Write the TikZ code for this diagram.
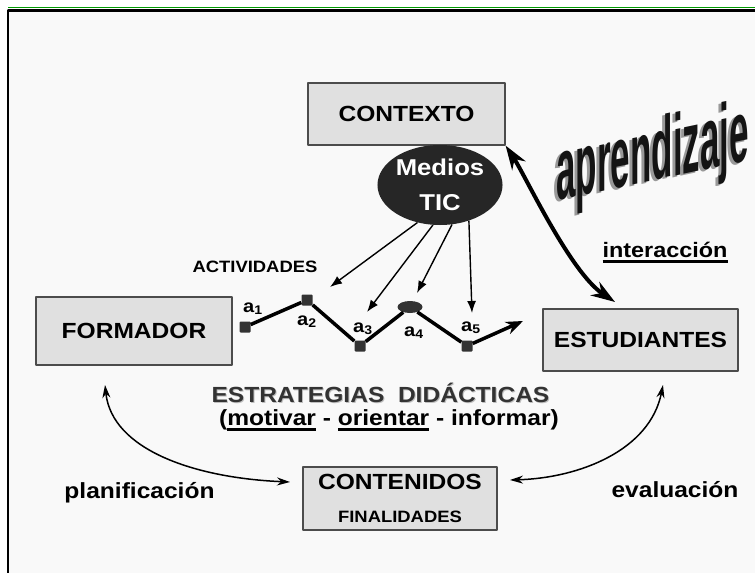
\documentclass[tikz,border=0pt]{standalone}
\usepackage{fontspec}
\setmainfont{Liberation Sans}[FakeStretch=1.12]
\newfontfamily\wordart{Liberation Sans}[FakeStretch=0.40]
\usepackage{tikz}
\usetikzlibrary{shapes.geometric,arrows.meta}
\newcommand{\undl}[1]{\leavevmode\setbox0=\hbox{#1}\rlap{\vrule width\wd0 height -3bp depth 5.5bp}\box0\relax}

\begin{document}
\begin{tikzpicture}[x=1bp, y=-1bp, line join=round,
  box/.style = {draw=black!70, line width=1.2bp, fill=black!12, inner sep=0pt},
  boxlbl/.style = {font=\fontsize{22}{26}\selectfont\bfseries},
  sublbl/.style = {font=\fontsize{16.5}{20}\selectfont\bfseries},
  actv/.style = {fill=black!80, minimum size=11bp, inner sep=0pt, rounded corners=1bp},
  alab/.style = {font=\fontsize{18}{22}\selectfont\bfseries, inner sep=0pt, anchor=base west},
  fine/.style = {-{Latex[length=12bp,width=9bp]}, line width=1.4bp},
  zigzag/.style = {line width=3.5bp},
  cyc/.style = {{Stealth[length=13bp,width=8bp]}-{Stealth[length=13bp,width=8bp]}, line width=1.5bp},
  inter/.style = {{Stealth[length=24bp,width=16bp]}-{Stealth[length=24bp,width=16bp]}, line width=4bp},
  wa/.style = {font=\wordart\fontsize{88}{88}\selectfont\bfseries, anchor=base west, yslant=0.21, inner sep=0pt}]
\useasboundingbox (0,0) rectangle (755,573);
\fill[black!2.5] (8,10) rectangle (755,573);
\draw[green!60!black, line width=1bp] (8,8) -- (755,8);
\draw[line width=2.5bp] (8,573) -- (8,10.5) -- (755,10.5);

\node[box, boxlbl, minimum width=197bp, minimum height=62bp] (ctx) at (406.5,114) {CONTEXTO};
\node[box, boxlbl, minimum width=196bp, minimum height=68bp] (form) at (134,331) {FORMADOR};
\node[box, boxlbl, minimum width=195bp, minimum height=62bp] (est) at (640.5,340) {ESTUDIANTES};
\node[box, minimum width=194bp, minimum height=63bp] (cont) at (400,498.5) {};
\node[boxlbl] (conttxt) at (400,482) {CONTENIDOS};
\node[sublbl] (fin) at (400,517) {FINALIDADES};

\node[ellipse, fill=black!85, text=white, minimum width=108bp, minimum height=80bp, inner sep=0pt,
  align=center, font=\fontsize{23}{35}\selectfont\bfseries] (tic) at (440,185) {Medios\\TIC};

\node[wa, text=black!40] (wordsh) at (553,203) {aprendizaje};
\node[wa, text=black!92] (word) at (556,201) {aprendizaje};

\node[anchor=base, font=\fontsize{21}{24}\selectfont\bfseries] (inter) at (665,257) {\undl{interacción}};
\node[sublbl] (act) at (255,267) {ACTIVIDADES};

\node[actv] (m1) at (245,327) {};
\node[actv] (m2) at (307,300) {};
\node[actv] (m3) at (360,346) {};
\node[actv, ellipse, minimum width=25bp, minimum height=12bp] (m4) at (410,307) {};
\node[actv] (m5) at (467,346) {};
\coordinate (zend) at (523,321);
\draw[zigzag] (m1) -- (m2) -- (m3) -- (m4) -- (m5);
\draw[zigzag, -{Stealth[length=17bp,width=13bp]}] (m5) -- (zend);

\node[alab] (a1) at (243,312) {a\textsubscript{1}};
\node[alab] (a2) at (297,325) {a\textsubscript{2}};
\node[alab] (a3) at (353,332) {a\textsubscript{3}};
\node[alab] (a4) at (404,336) {a\textsubscript{4}};
\node[alab] (a5) at (461,331) {a\textsubscript{5}};

\coordinate (t1) at (330,287);
\coordinate (t2) at (367,312);
\coordinate (t3) at (417,293);
\coordinate (t4) at (472,313);
\draw[fine] (tic.239) -- (t1);
\draw[fine] (tic.260) -- (t2);
\draw[fine] (tic.287) -- (t3);
\draw[fine] (tic.309) -- (t4);

\coordinate (iend) at (615,302);
\draw[inter] (ctx.south east) .. controls (525,175) and (570,272) .. (iend);

\node[boxlbl, text=black!25, anchor=base] (estrsh) at (381.5,403) {ESTRATEGIAS\ \ DIDÁCTICAS};
\node[boxlbl, text=black!80, anchor=base] (estr) at (380.5,402) {ESTRATEGIAS\ \ DIDÁCTICAS};
\node[boxlbl, anchor=base] (verbs) at (389,425) {(\undl{motivar} - \undl{orientar} - informar)};

\coordinate (fup) at (105,385);
\coordinate (cl) at (290,482);
\coordinate (cr) at (510,480);
\coordinate (eup) at (663,385);
\draw[cyc] (fup) .. controls (112,450) and (195,478) .. (cl);
\draw[cyc] (cr) .. controls (580,478) and (650,450) .. (eup);

\node[boxlbl, anchor=base] (plan) at (139.5,498) {planificación};
\node[boxlbl, anchor=base] (eval) at (675,497) {evaluación};
\end{tikzpicture}
\end{document}
